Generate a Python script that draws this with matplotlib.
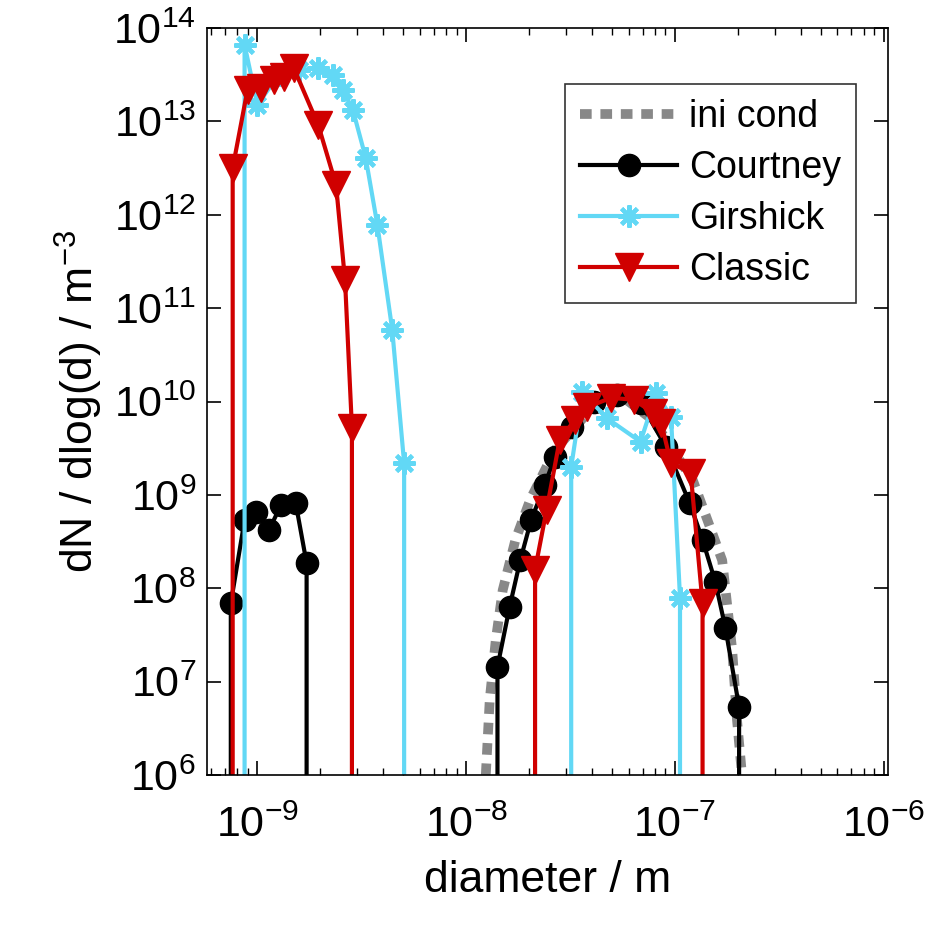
import matplotlib
matplotlib.use("Agg")
import matplotlib.pyplot as plt
import numpy as np

plt.rcParams["font.family"] = ["Liberation Sans", "DejaVu Sans"]
plt.rcParams["mathtext.fontset"] = "custom"
plt.rcParams["mathtext.rm"] = "Liberation Sans"
plt.rcParams["mathtext.default"] = "regular"

# log10 diameter / log10 dN/dlog(d)
ini_x = [-7.906, -7.887, -7.858, -7.825, -7.764, -7.693, -7.575, -7.387, -7.245, -7.104, -6.915, -6.774, -6.726, -6.703, -6.679]
ini_y = [6.0, 6.81, 7.45, 7.98, 8.52, 8.95, 9.48, 9.96, 10.04, 9.80, 9.16, 8.30, 7.34, 6.59, 6.0]

court_x1 = [-9.127, -9.061, -9.005, -8.943, -8.887, -8.816, -8.764]
court_y1 = [7.84, 8.73, 8.82, 8.63, 8.89, 8.91, 8.27]
court_x2 = [-7.850, -7.792, -7.741, -7.689, -7.623, -7.575, -7.491, -7.387, -7.278, -7.165,
            -7.042, -6.929, -6.868, -6.807, -6.759, -6.693]
court_y2 = [7.16, 7.80, 8.30, 8.73, 9.11, 9.41, 9.73, 10.0, 10.07, 9.99,
            9.51, 8.91, 8.52, 8.07, 7.58, 6.73]

gir_x1 = [-9.061, -9.0, -8.896, -8.802, -8.708, -8.637, -8.590, -8.542, -8.481, -8.425, -8.354, -8.297]
gir_y1 = [13.82, 13.18, 13.50, 13.55, 13.57, 13.50, 13.34, 13.12, 12.61, 11.89, 10.77, 9.34]
gir_x2 = [-7.497, -7.443, -7.325, -7.165, -7.090, -7.019, -6.976]
gir_y2 = [9.30, 10.10, 9.82, 9.57, 10.09, 9.84, 7.90]

cla_x1 = [-9.118, -9.047, -8.981, -8.920, -8.873, -8.825, -8.708, -8.623, -8.580, -8.547]
cla_y1 = [12.50, 13.34, 13.36, 13.44, 13.48, 13.57, 12.96, 12.32, 11.30, 9.72]
cla_x2 = [-7.670, -7.615, -7.552, -7.481, -7.420, -7.307, -7.198, -7.104, -7.066, -7.019, -6.925, -6.868]
cla_y2 = [8.20, 8.84, 9.59, 9.80, 9.94, 10.04, 10.02, 9.88, 9.77, 9.34, 9.24, 7.84]


def with_drops(lx, ly):
    # the modes fall off to (numerically) zero on both sides
    x = np.concatenate([[lx[0]], lx, [lx[-1]]])
    y = np.concatenate([[0.0], ly, [0.0]])
    return 10.0 ** x, 10.0 ** y


fig = plt.figure(figsize=(9.25, 9.35), dpi=100)
ax = fig.add_axes([0.224, 0.171, 0.736, 0.799])

x, y = 10.0 ** np.array(ini_x), 10.0 ** np.array(ini_y)
ax.plot(x, y, color="#888888", lw=7, ls=(0, (1.2, 0.9)), label="ini cond")

styles = [
    ("Courtney", court_x1, court_y1, court_x2, court_y2,
     dict(color="black", marker="o", ms=16, lw=3)),
    ("Girshick", gir_x1, gir_y1, gir_x2, gir_y2,
     dict(color="#62d8f5", marker=(8, 2, 0), ms=16, mew=3, lw=3)),
    ("Classic", cla_x1, cla_y1, cla_x2, cla_y2,
     dict(color="#d00000", marker="v", ms=20, lw=3)),
]
for name, x1, y1, x2, y2, st in styles:
    a, b = with_drops(x1, y1)
    ax.plot(a, b, markevery=list(range(1, len(a) - 1)), label=name, **st)
    a, b = with_drops(x2, y2)
    ax.plot(a, b, markevery=list(range(1, len(a) - 1)), **st)

ax.set_xscale("log")
ax.set_yscale("log")
ax.set_xlim(10 ** -9.24, 10 ** -5.98)
ax.set_ylim(1e6, 1e14)
ax.set_xticks([1e-9, 1e-8, 1e-7, 1e-6])
ax.set_xticklabels([r"$10^{-9}$", r"$10^{-8}$", r"$10^{-7}$", r"$10^{-6}$"])
ax.set_yticks([10.0 ** k for k in range(6, 15)])
ax.set_yticklabels([r"$10^{%d}$" % k for k in range(6, 15)])
ax.tick_params(which="both", direction="in", top=True, right=True, labelsize=31)
ax.tick_params(axis="x", which="major", pad=22)
ax.tick_params(axis="y", which="major", pad=8)
ax.tick_params(which="major", length=10, width=1.2)
ax.tick_params(which="minor", length=5, width=1)
ax.set_xlabel("diameter / m", fontsize=32, labelpad=10)
ax.set_ylabel(r"dN / dlog(d) / m$^{-3}$", fontsize=32, labelpad=6)
for s in ax.spines.values():
    s.set_linewidth(1.2)

leg = ax.legend(loc="upper right", bbox_to_anchor=(0.98, 0.95), fontsize=27,
                fancybox=False, edgecolor="black", handlelength=2.6,
                borderpad=0.4, labelspacing=0.4, handletextpad=0.3)
leg.get_frame().set_linewidth(1.2)

fig.savefig("out.png", dpi=100)
